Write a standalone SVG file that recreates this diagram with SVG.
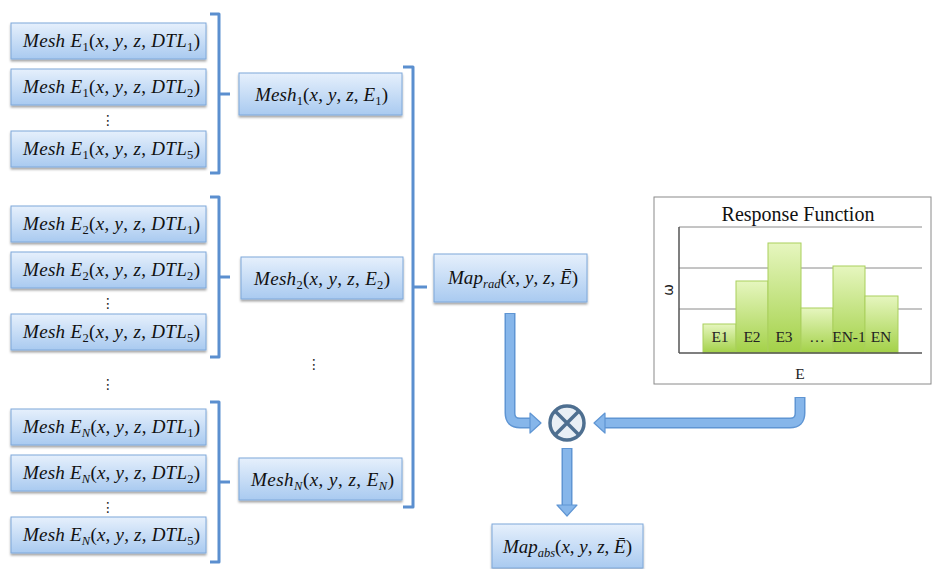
<svg xmlns="http://www.w3.org/2000/svg" width="934" height="569" viewBox="0 0 934 569">
<style>
.box{fill:url(#boxg);stroke:#7fa8da;stroke-width:1;filter:url(#sh)}
.m{font-family:"Liberation Serif","Times New Roman",serif;font-size:19px;fill:#111}
.i{font-style:italic}
.s{font-size:12.5px}
.dots{font-family:"DejaVu Sans",sans-serif;font-size:14px;fill:#222;text-anchor:middle}
.br{fill:none;stroke:#5b8fcf;stroke-width:3;stroke-linejoin:round}
.ao{fill:none;stroke:#5f95d3;stroke-width:11}
.ar{fill:none;stroke:#86b6ea;stroke-width:8}
.arh{fill:#86b6ea;stroke:#5f95d3;stroke-width:1.2;stroke-linejoin:round}
.grid{stroke:#8a8a8a;stroke-width:1}
.bar{fill:url(#barg);stroke:#a9cf5d;stroke-width:1}
.cl{font-family:"Liberation Serif","Times New Roman",serif;font-size:15.5px;fill:#222;text-anchor:middle}
</style>
<defs>
<linearGradient id="boxg" x1="0" y1="0" x2="0" y2="1">
<stop offset="0" stop-color="#e6f0fc"/>
<stop offset="1" stop-color="#a9caf0"/>
</linearGradient>
<linearGradient id="barg" x1="0" y1="0" x2="0" y2="1">
<stop offset="0" stop-color="#e6f6bf"/>
<stop offset="1" stop-color="#a3d148"/>
</linearGradient>
<filter id="sh" x="-10%" y="-20%" width="120%" height="150%">
<feDropShadow dx="0" dy="2" stdDeviation="1.3" flood-color="#000" flood-opacity="0.35"/>
</filter>
</defs>

<g id="connectors">
<path class="br" d="M210 14 H219 V173 H210 M219 94 H230"/>
<path class="br" d="M210 197 H219 V357 H210 M219 277 H230"/>
<path class="br" d="M210 402 H219 V562 H210 M219 482 H230"/>
<path class="br" d="M403 67 H413 V507 H403 M413 287 H427"/>
<path class="ao" d="M510 313 V413 Q510 423 520 423 H531"/>
<path class="ar" d="M510 314 V413 Q510 423 520 423 H532"/>
<polygon class="arh" points="530,413 541,423 530,433"/>
<path class="ao" d="M800 397 V413 Q800 423 790 423 H604"/>
<path class="ar" d="M800 398 V413 Q800 423 790 423 H603"/>
<polygon class="arh" points="605,413 594,423 605,433"/>
<path class="ao" d="M567 448 V505"/>
<path class="ar" d="M567 449 V506"/>
<polygon class="arh" points="557,505 577,505 567,516"/>
</g>

<g id="mesh-e1-dtl1"><rect class="box" x="11" y="23" width="195" height="36"/>
<text class="m" x="23" y="47" textLength="177" lengthAdjust="spacing"><tspan class="i">Mesh E</tspan><tspan class="s" dy="4">1</tspan><tspan dy="-4">(</tspan><tspan class="i">x</tspan>, <tspan class="i">y</tspan>, <tspan class="i">z</tspan>, <tspan class="i">DTL</tspan><tspan class="s" dy="4">1</tspan><tspan dy="-4">)</tspan></text></g>
<g id="mesh-e1-dtl2"><rect class="box" x="11" y="69" width="195" height="36"/>
<text class="m" x="23" y="93" textLength="177" lengthAdjust="spacing"><tspan class="i">Mesh E</tspan><tspan class="s" dy="4">1</tspan><tspan dy="-4">(</tspan><tspan class="i">x</tspan>, <tspan class="i">y</tspan>, <tspan class="i">z</tspan>, <tspan class="i">DTL</tspan><tspan class="s" dy="4">2</tspan><tspan dy="-4">)</tspan></text></g>
<text class="dots" x="108" y="125">⋮</text>
<g id="mesh-e1-dtl5"><rect class="box" x="11" y="131" width="195" height="36"/>
<text class="m" x="23" y="155" textLength="177" lengthAdjust="spacing"><tspan class="i">Mesh E</tspan><tspan class="s" dy="4">1</tspan><tspan dy="-4">(</tspan><tspan class="i">x</tspan>, <tspan class="i">y</tspan>, <tspan class="i">z</tspan>, <tspan class="i">DTL</tspan><tspan class="s" dy="4">5</tspan><tspan dy="-4">)</tspan></text></g>

<g id="mesh-e2-dtl1"><rect class="box" x="11" y="206" width="195" height="36"/>
<text class="m" x="23" y="230" textLength="177" lengthAdjust="spacing"><tspan class="i">Mesh E</tspan><tspan class="s" dy="4">2</tspan><tspan dy="-4">(</tspan><tspan class="i">x</tspan>, <tspan class="i">y</tspan>, <tspan class="i">z</tspan>, <tspan class="i">DTL</tspan><tspan class="s" dy="4">1</tspan><tspan dy="-4">)</tspan></text></g>
<g id="mesh-e2-dtl2"><rect class="box" x="11" y="252" width="195" height="36"/>
<text class="m" x="23" y="276" textLength="177" lengthAdjust="spacing"><tspan class="i">Mesh E</tspan><tspan class="s" dy="4">2</tspan><tspan dy="-4">(</tspan><tspan class="i">x</tspan>, <tspan class="i">y</tspan>, <tspan class="i">z</tspan>, <tspan class="i">DTL</tspan><tspan class="s" dy="4">2</tspan><tspan dy="-4">)</tspan></text></g>
<text class="dots" x="108" y="308">⋮</text>
<g id="mesh-e2-dtl5"><rect class="box" x="11" y="314" width="195" height="36"/>
<text class="m" x="23" y="338" textLength="177" lengthAdjust="spacing"><tspan class="i">Mesh E</tspan><tspan class="s" dy="4">2</tspan><tspan dy="-4">(</tspan><tspan class="i">x</tspan>, <tspan class="i">y</tspan>, <tspan class="i">z</tspan>, <tspan class="i">DTL</tspan><tspan class="s" dy="4">5</tspan><tspan dy="-4">)</tspan></text></g>

<text class="dots" x="108" y="389">⋮</text>

<g id="mesh-en-dtl1"><rect class="box" x="11" y="409" width="195" height="36"/>
<text class="m" x="23" y="433" textLength="177" lengthAdjust="spacing"><tspan class="i">Mesh E</tspan><tspan class="s i" dy="4">N</tspan><tspan dy="-4">(</tspan><tspan class="i">x</tspan>, <tspan class="i">y</tspan>, <tspan class="i">z</tspan>, <tspan class="i">DTL</tspan><tspan class="s" dy="4">1</tspan><tspan dy="-4">)</tspan></text></g>
<g id="mesh-en-dtl2"><rect class="box" x="11" y="455" width="195" height="36"/>
<text class="m" x="23" y="479" textLength="177" lengthAdjust="spacing"><tspan class="i">Mesh E</tspan><tspan class="s i" dy="4">N</tspan><tspan dy="-4">(</tspan><tspan class="i">x</tspan>, <tspan class="i">y</tspan>, <tspan class="i">z</tspan>, <tspan class="i">DTL</tspan><tspan class="s" dy="4">2</tspan><tspan dy="-4">)</tspan></text></g>
<text class="dots" x="108" y="512">⋮</text>
<g id="mesh-en-dtl5"><rect class="box" x="11" y="517" width="195" height="36"/>
<text class="m" x="23" y="541" textLength="177" lengthAdjust="spacing"><tspan class="i">Mesh E</tspan><tspan class="s i" dy="4">N</tspan><tspan dy="-4">(</tspan><tspan class="i">x</tspan>, <tspan class="i">y</tspan>, <tspan class="i">z</tspan>, <tspan class="i">DTL</tspan><tspan class="s" dy="4">5</tspan><tspan dy="-4">)</tspan></text></g>

<g id="mesh-1"><rect class="box" x="239" y="73" width="163" height="42"/>
<text class="m" x="255" y="101" textLength="133" lengthAdjust="spacing"><tspan class="i">Mesh</tspan><tspan class="s" dy="4">1</tspan><tspan dy="-4">(</tspan><tspan class="i">x</tspan>, <tspan class="i">y</tspan>, <tspan class="i">z</tspan>, <tspan class="i">E</tspan><tspan class="s" dy="4">1</tspan><tspan dy="-4">)</tspan></text></g>
<g id="mesh-2"><rect class="box" x="241" y="257" width="162" height="42"/>
<text class="m" x="254" y="285" textLength="136" lengthAdjust="spacing"><tspan class="i">Mesh</tspan><tspan class="s" dy="4">2</tspan><tspan dy="-4">(</tspan><tspan class="i">x</tspan>, <tspan class="i">y</tspan>, <tspan class="i">z</tspan>, <tspan class="i">E</tspan><tspan class="s" dy="4">2</tspan><tspan dy="-4">)</tspan></text></g>
<text class="dots" x="314" y="369">⋮</text>
<g id="mesh-n"><rect class="box" x="239" y="458" width="163" height="42"/>
<text class="m" x="251" y="486" textLength="143" lengthAdjust="spacing"><tspan class="i">Mesh</tspan><tspan class="s i" dy="4">N</tspan><tspan dy="-4">(</tspan><tspan class="i">x</tspan>, <tspan class="i">y</tspan>, <tspan class="i">z</tspan>, <tspan class="i">E</tspan><tspan class="s i" dy="4">N</tspan><tspan dy="-4">)</tspan></text></g>

<g id="map-rad"><rect class="box" x="434" y="254" width="153" height="48"/>
<text class="m" x="448" y="284" textLength="130" lengthAdjust="spacing"><tspan class="i">Map</tspan><tspan class="s i" dy="4">rad</tspan><tspan dy="-4">(</tspan><tspan class="i">x</tspan>, <tspan class="i">y</tspan>, <tspan class="i">z</tspan>, <tspan class="i">Ē</tspan>)</text></g>

<g id="multiply">
<circle cx="567" cy="423" r="17" fill="#e9eff5" stroke="#4e6f90" stroke-width="3.5"/>
<path d="M555 411 L579 435 M579 411 L555 435" stroke="#4e6f90" stroke-width="3.5"/>
</g>

<g id="map-abs"><rect class="box" x="492" y="524" width="151" height="44"/>
<text class="m" x="503" y="553" textLength="129" lengthAdjust="spacing"><tspan class="i">Map</tspan><tspan class="s i" dy="4">abs</tspan><tspan dy="-4">(</tspan><tspan class="i">x</tspan>, <tspan class="i">y</tspan>, <tspan class="i">z</tspan>, <tspan class="i">Ē</tspan>)</text></g>

<g id="response-function">
<rect x="654" y="197" width="277" height="187" fill="#fff" stroke="#8a8a8a" stroke-width="1"/>
<text x="798" y="221" font-family="Liberation Serif, serif" font-size="20" fill="#111" text-anchor="middle">Response Function</text>
<line class="grid" x1="679" y1="227" x2="922" y2="227"/>
<line class="grid" x1="679" y1="268" x2="922" y2="268"/>
<line class="grid" x1="679" y1="309" x2="922" y2="309"/>
<rect class="bar" x="703" y="324" width="33" height="29"/>
<rect class="bar" x="736" y="281" width="32" height="72"/>
<rect class="bar" x="768" y="243" width="33" height="110"/>
<rect class="bar" x="801" y="308" width="32" height="45"/>
<rect class="bar" x="833" y="266" width="32" height="87"/>
<rect class="bar" x="865" y="296" width="33" height="57"/>
<line x1="679" y1="227" x2="679" y2="353" stroke="#555" stroke-width="1.5"/>
<line x1="679" y1="353" x2="922" y2="353" stroke="#555" stroke-width="1.5"/>
<text class="cl" x="720" y="342">E1</text>
<text class="cl" x="752" y="342">E2</text>
<text class="cl" x="784" y="342">E3</text>
<text class="cl" x="817" y="342">…</text>
<text class="cl" x="849" y="342">EN-1</text>
<text class="cl" x="881" y="342">EN</text>
<text class="cl" x="800" y="379">E</text>
<text x="0" y="0" font-family="DejaVu Sans, sans-serif" font-size="14" fill="#222" text-anchor="middle" transform="translate(673 290) rotate(-90)">ω</text>
</g>
</svg>
